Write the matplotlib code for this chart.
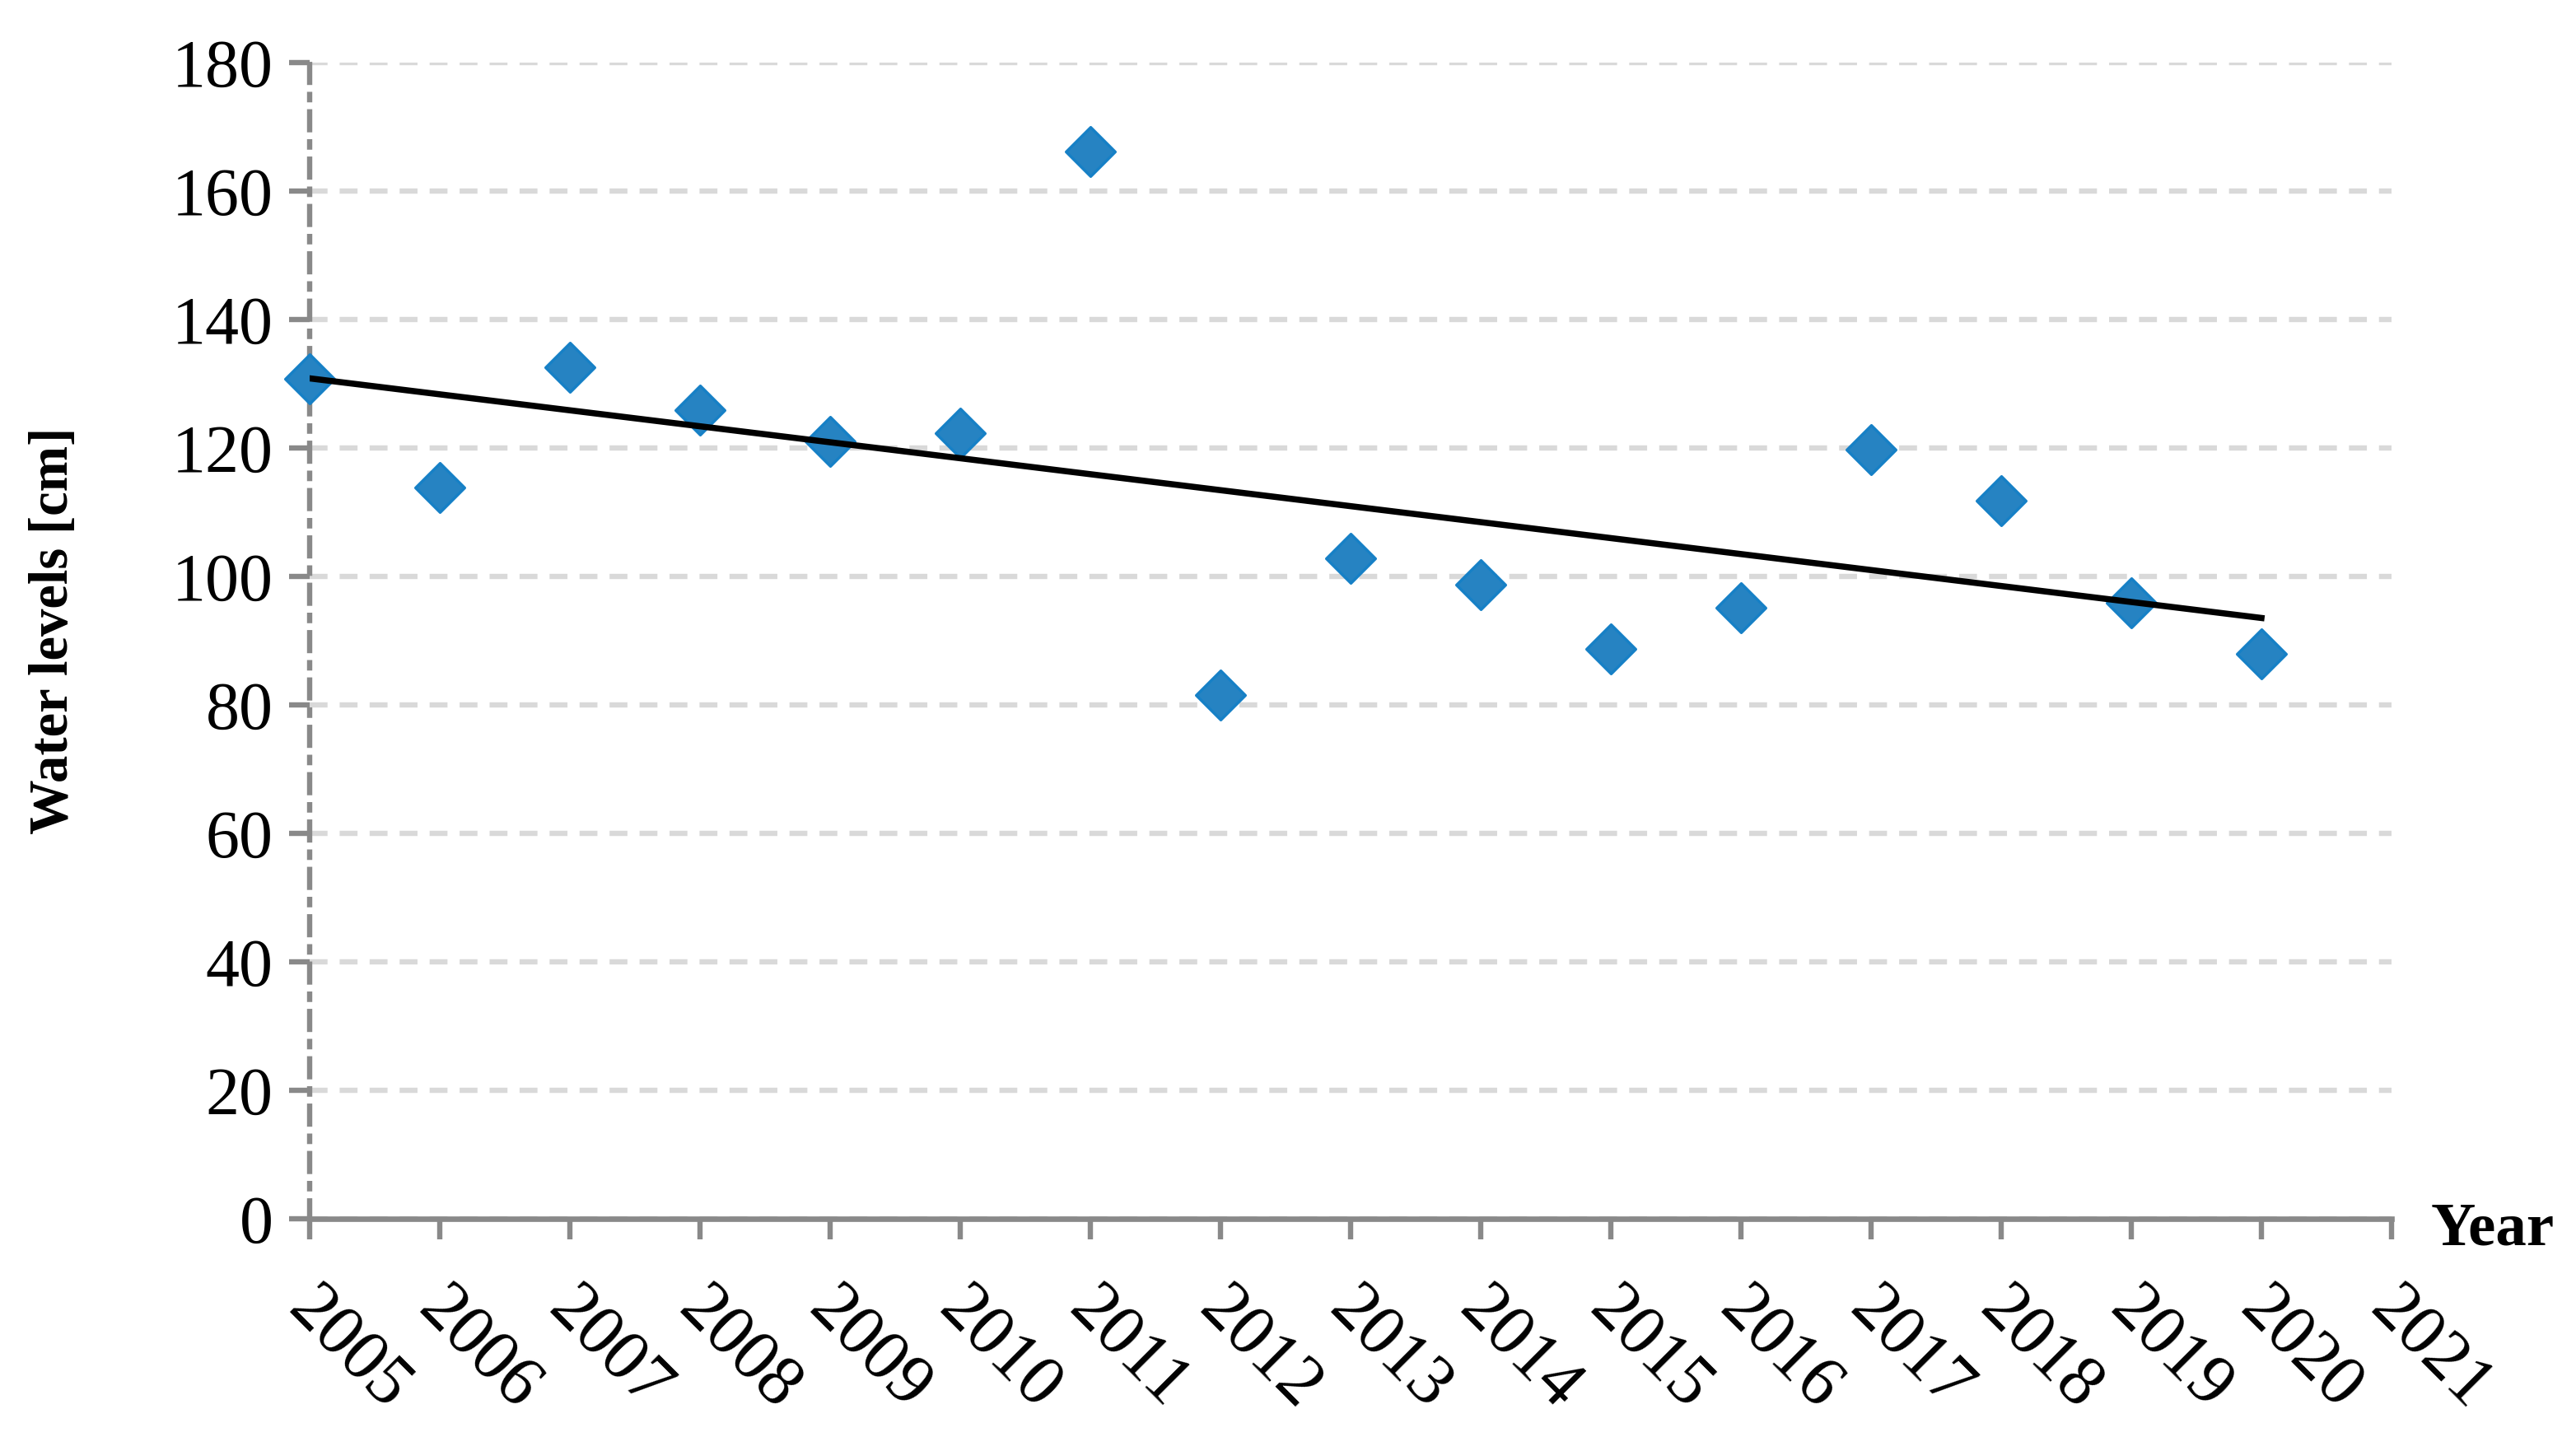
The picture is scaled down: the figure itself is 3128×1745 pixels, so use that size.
import numpy as np
import matplotlib
matplotlib.use("Agg")
import matplotlib.pyplot as plt
from matplotlib.path import Path
from matplotlib.transforms import ScaledTranslation

# 데이터
years = [2005, 2006, 2007, 2008, 2009, 2010, 2011, 2012,
         2013, 2014, 2015, 2016, 2017, 2018, 2019, 2020]
water_levels = [130.8, 113.8, 132.6, 125.9, 121.0, 122.3, 166.2, 81.5,
                102.8, 98.7, 88.7, 95.1, 119.7, 111.8, 95.9, 87.9]
x_ticks = list(range(2005, 2022))
y_ticks = list(range(0, 181, 20))

plt.rcParams['font.family'] = ['Liberation Serif', 'DejaVu Serif']

fig = plt.figure(figsize=(15.64, 8.725), dpi=200)
ax = fig.add_axes([0.1202, 0.152, 0.8082, 0.8045])

# 마름모 마커
diamond = Path([(-1, 0), (0, 1), (1, 0), (0, -1), (-1, 0)],
               [Path.MOVETO, Path.LINETO, Path.LINETO, Path.LINETO, Path.CLOSEPOLY])
ax.plot(years, water_levels, linestyle='none', marker=diamond, markersize=21.5,
        markerfacecolor='#2683C2', markeredgecolor='#1680C6', markeredgewidth=1.2,
        clip_on=False, zorder=4)

# 선형 추세선
coef = np.polyfit(years, water_levels, 1)
trend_x = np.array([years[0], years[-1]])
ax.plot(trend_x, np.polyval(coef, trend_x), color='black', lw=2.7, zorder=5)

ax.set_xlim(2005, 2021)
ax.set_ylim(0, 180)
ax.set_xticks(x_ticks)
ax.set_yticks(y_ticks)
ax.set_xticklabels([str(t) for t in x_ticks], rotation=-45, ha='left', va='top',
                   rotation_mode='anchor', fontsize=31)
ax.tick_params(axis='y', labelsize=29.5, length=9, width=2.3, color='#898989', pad=7)
ax.tick_params(axis='x', length=9, width=2.3, color='#898989', pad=13)

# x 눈금 라벨을 약간 오른쪽 아래로 이동
shift = ScaledTranslation(5 / 72, -3 / 72, fig.dpi_scale_trans)
for lab in ax.get_xticklabels():
    lab.set_transform(lab.get_transform() + shift)

ax.yaxis.grid(True, color='#D9D9D9', lw=2.3, dashes=(3.4, 2.3))
ax.set_axisbelow(True)

for s in ['top', 'right']:
    ax.spines[s].set_visible(False)
ax.spines['bottom'].set_color('#898989')
ax.spines['bottom'].set_linewidth(2.4)
ax.spines['left'].set_color('#898989')
ax.spines['left'].set_linewidth(2.3)
ax.spines['left'].set_linestyle((0, (3.4, 2.3, 1.0, 2.3)))

fig.text(66 / 3128, 0.561, 'Water levels [cm]', rotation=90, fontsize=24,
         fontweight='bold', ha='center', va='center')
ax.annotate('Year', xy=(1, 0), xycoords='axes fraction', xytext=(17, -5),
            textcoords='offset points', fontsize=27, fontweight='bold',
            ha='left', va='center')

fig.savefig('out.png', dpi=200)
